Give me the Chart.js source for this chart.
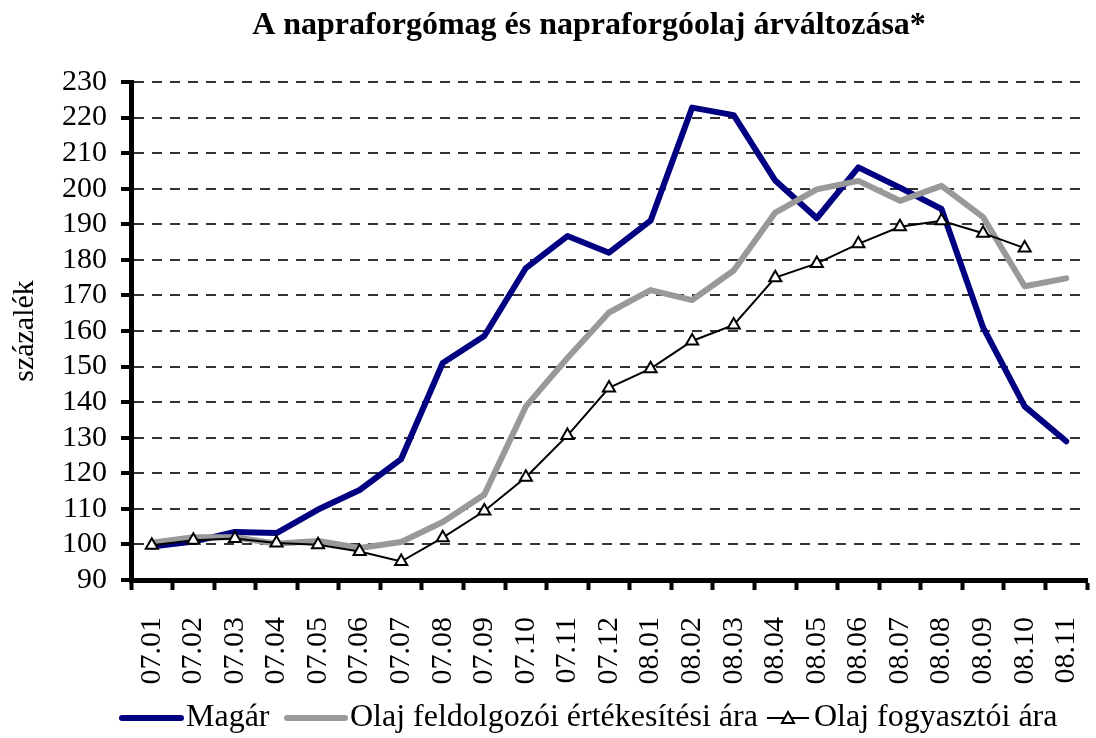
<!DOCTYPE html>
<html>
<head>
<meta charset="utf-8">
<script src="https://cdn.jsdelivr.net/npm/chart.js@4"></script>
<style>
  html, body { margin: 0; padding: 0; background: #fff; }
</style>
</head>
<body>
<canvas id="chart" width="1096" height="738"></canvas>
<script>
// adatok
const honapok = ['07.01', '07.02', '07.03', '07.04', '07.05', '07.06', '07.07', '07.08', '07.09', '07.10', '07.11', '07.12',
  '08.01', '08.02', '08.03', '08.04', '08.05', '08.06', '08.07', '08.08', '08.09', '08.10', '08.11'];
const magar = [99.4, 100.8, 103.5, 103.2, 109.8, 115.3, 124, 151, 158.6, 177.7, 186.7, 182, 191, 222.8, 220.7, 202.3, 191.7, 206, 200.3, 194.3, 161, 138.8, 129];
const olajFeldolgozoi = [100.5, 102, 102, 100.2, 101, 99, 100.7, 106.3, 114, 138.8, 152.4, 165.2, 171.5, 168.7, 177, 193.3, 199.8, 202.2, 196.6, 200.8, 192, 172.6, 174.8];
const olajFogyasztoi = [99.8, 101.2, 101.7, 100.4, 99.9, 98, 95.2, 101.9, 109.4, 118.9, 130.6, 144, 149.4, 157.2, 161.7, 175, 179, 184.5, 189.3, 191, 187.5, 183.3, null];
const yMin = 90, yMax = 230, yStep = 10;

const cim = 'A napraforgómag és napraforgóolaj árváltozása*';
const yCim = 'százalék';
const sorozatNevek = ['Magár', 'Olaj feldolgozói értékesítési ára', 'Olaj fogyasztói ára'];

const betu = "'Liberation Serif', 'Times New Roman', serif";
Chart.defaults.font.family = betu;
Chart.defaults.color = '#000';

// cím és jelmagyarázat rajzolása
const keret = {
  id: 'keret',
  afterDraw(chart) {
    const ctx = chart.ctx;
    ctx.save();
    ctx.fillStyle = '#000';
    ctx.font = 'bold 32px ' + betu;
    ctx.textAlign = 'center';
    ctx.textBaseline = 'alphabetic';
    ctx.fillText(cim, 589, 34);

    const y = 718;
    ctx.font = '32px ' + betu;
    ctx.textAlign = 'left';
    ctx.textBaseline = 'middle';
    ctx.lineCap = 'round';

    ctx.strokeStyle = '#000080';
    ctx.lineWidth = 6;
    ctx.beginPath(); ctx.moveTo(122, y); ctx.lineTo(181, y); ctx.stroke();
    ctx.fillText(sorozatNevek[0], 186, y);

    ctx.strokeStyle = '#999999';
    ctx.beginPath(); ctx.moveTo(287, y); ctx.lineTo(345, y); ctx.stroke();
    ctx.fillText(sorozatNevek[1], 350, y);

    ctx.strokeStyle = '#000';
    ctx.lineWidth = 2;
    ctx.lineCap = 'butt';
    ctx.beginPath(); ctx.moveTo(767, y); ctx.lineTo(809, y); ctx.stroke();
    ctx.fillStyle = '#fff';
    ctx.beginPath();
    ctx.moveTo(788, y - 6); ctx.lineTo(794, y + 5); ctx.lineTo(782, y + 5); ctx.closePath();
    ctx.fill(); ctx.stroke();
    ctx.fillStyle = '#000';
    ctx.fillText(sorozatNevek[2], 814, y);
    ctx.restore();
  }
};

new Chart(document.getElementById('chart'), {
  type: 'line',
  data: {
    labels: honapok,
    datasets: [
      {
        label: sorozatNevek[0],
        data: magar,
        borderColor: '#000080',
        borderWidth: 6,
        pointRadius: 0,
        borderJoinStyle: 'round',
        borderCapStyle: 'round',
        tension: 0,
        order: 3
      },
      {
        label: sorozatNevek[1],
        data: olajFeldolgozoi,
        borderColor: '#999999',
        borderWidth: 6,
        pointRadius: 0,
        borderJoinStyle: 'round',
        borderCapStyle: 'round',
        tension: 0,
        order: 2
      },
      {
        label: sorozatNevek[2],
        data: olajFogyasztoi,
        borderColor: '#000',
        borderWidth: 2,
        pointStyle: 'triangle',
        pointRadius: 7,
        pointBorderWidth: 2,
        pointBackgroundColor: '#fff',
        pointBorderColor: '#000',
        tension: 0,
        order: 1
      }
    ]
  },
  options: {
    responsive: false,
    animation: false,
    layout: { padding: { top: 82, right: 0, bottom: 38, left: 0 } },
    plugins: {
      legend: { display: false },
      title: { display: false },
      tooltip: { enabled: false }
    },
    scales: {
      x: {
        offset: true,
        afterFit(scale) {
          scale.height = 120;
          scale.paddingRight = 0;
          scale.paddingLeft = 0;
        },
        grid: {
          offset: true,
          drawOnChartArea: false,
          tickLength: 10,
          tickWidth: 4,
          tickColor: '#000'
        },
        border: { color: '#000', width: 5 },
        ticks: {
          font: { size: 30 },
          minRotation: 90,
          maxRotation: 90,
          padding: 27,
          autoSkip: false
        }
      },
      y: {
        min: yMin,
        max: yMax,
        afterFit(scale) {
          scale.width = 131;
        },
        grid: {
          color: '#333',
          lineWidth: 2,
          tickLength: 10,
          tickWidth: 4,
          tickColor: '#000'
        },
        border: { color: '#000', width: 5, dash: [10, 8] },
        ticks: {
          stepSize: yStep,
          autoSkip: false,
          font: { size: 30 },
          padding: 14
        },
        title: {
          display: true,
          text: yCim,
          font: { size: 30 },
          padding: { top: 7, bottom: 5 }
        }
      }
    }
  },
  plugins: [keret]
});
</script>
</body>
</html>
